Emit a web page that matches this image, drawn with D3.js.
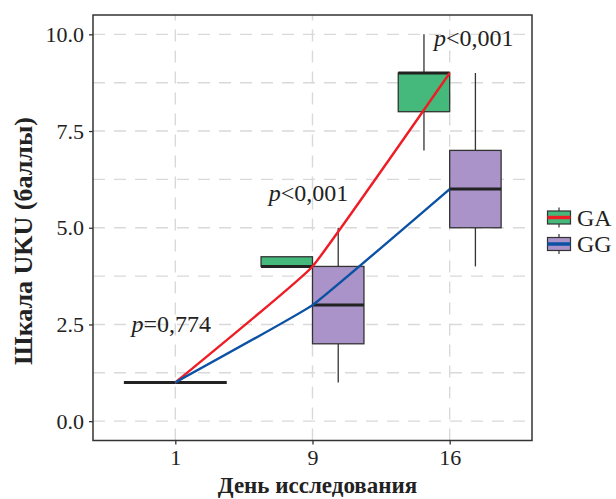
<!DOCTYPE html>
<html>
<head>
<meta charset="utf-8">
<title>UKU</title>
<script src="https://d3js.org/d3.v7.min.js"></script>
<style>
  * { margin: 0; padding: 0; }
  body { background: #fff; }
  text { font-family: "Liberation Serif", "Times New Roman", serif; }
</style>
</head>
<body>
<div id="chart"></div>
<script>
// data
var days = ["1", "9", "16"];
var groups = ["GA", "GG"];
var gaMin = [1, 4, 7],    gaQ1 = [1, 4, 8], gaMed = [1, 4, 9], gaQ3 = [1, 4.25, 9], gaMax = [1, 4.25, 10];
var ggMin = [1, 1, 4],    ggQ1 = [1, 2, 5], ggMed = [1, 3, 6], ggQ3 = [1, 4, 7],    ggMax = [1, 5, 9];
var yTicks = [0, 2.5, 5, 7.5, 10];
var yMinor = [1.25, 3.75, 6.25, 8.75];
var pLabels = [["=", "0,774"], ["<", "0,001"], ["<", "0,001"]];
var pAt = [2.3, 5.7, 9.7];

var fillCol = { GA: "#45b97c", GG: "#a993c8" };
var lineCol = { GA: "#ee1c25", GG: "#0b52a5" };

var W = 616, H = 499;
var pLeft = 93, pRight = 532, pTop = 15, pBottom = 440.5;

var svg = d3.select("#chart").append("svg")
    .attr("width", W).attr("height", H);

var x = d3.scalePoint().domain(days).range([pLeft, pRight]).padding(0.6);
var y = d3.scaleLinear().domain([-0.5, 10.5]).range([pBottom, pTop]);
var step = x.step();
var boxW = step * 0.75 / 2;
var off = { GA: -boxW / 2, GG: boxW / 2 };

// grid
var grid = svg.append("g").attr("stroke", "#d9d9d9").attr("stroke-width", 1.4)
    .attr("stroke-dasharray", "12,9");
grid.selectAll(".hy").data(yTicks.concat(yMinor)).enter().append("line")
    .attr("x1", pLeft).attr("x2", pRight)
    .attr("y1", function (d) { return y(d); }).attr("y2", function (d) { return y(d); });
grid.selectAll(".vx").data(days).enter().append("line")
    .attr("y1", pBottom).attr("y2", pTop)
    .attr("x1", function (d) { return x(d); }).attr("x2", function (d) { return x(d); });

// boxes
var stats = {
    GA: days.map(function (d, i) { return { day: d, min: gaMin[i], q1: gaQ1[i], med: gaMed[i], q3: gaQ3[i], max: gaMax[i] }; }),
    GG: days.map(function (d, i) { return { day: d, min: ggMin[i], q1: ggQ1[i], med: ggMed[i], q3: ggQ3[i], max: ggMax[i] }; })
};

groups.forEach(function (g) {
    var gg = svg.append("g");
    var cx = function (d) { return x(d.day) + off[g]; };
    gg.selectAll(".wh").data(stats[g]).enter().append("line")
        .attr("x1", cx).attr("x2", cx)
        .attr("y1", function (d) { return y(d.max); }).attr("y2", function (d) { return y(d.q3); })
        .attr("stroke", "#333").attr("stroke-width", 1.3);
    gg.selectAll(".wl").data(stats[g]).enter().append("line")
        .attr("x1", cx).attr("x2", cx)
        .attr("y1", function (d) { return y(d.q1); }).attr("y2", function (d) { return y(d.min); })
        .attr("stroke", "#333").attr("stroke-width", 1.3);
    gg.selectAll("rect").data(stats[g]).enter().append("rect")
        .attr("x", function (d) { return cx(d) - boxW / 2; })
        .attr("width", boxW)
        .attr("y", function (d) { return y(d.q3); })
        .attr("height", function (d) { return y(d.q1) - y(d.q3); })
        .attr("fill", fillCol[g]).attr("stroke", "#333").attr("stroke-width", 1.3);
    gg.selectAll(".md").data(stats[g]).enter().append("line")
        .attr("x1", function (d) { return cx(d) - boxW / 2; })
        .attr("x2", function (d) { return cx(d) + boxW / 2; })
        .attr("y1", function (d) { return y(d.med); }).attr("y2", function (d) { return y(d.med); })
        .attr("stroke", "#222").attr("stroke-width", 3);
});

// median trend lines, nearly straight with a soft bend at day 9
var line = d3.line()
    .x(function (d) { return x(d.day); })
    .y(function (d) { return y(d.med); })
    .curve(d3.curveCardinal.tension(0.75));
groups.forEach(function (g) {
    svg.append("path").datum(stats[g])
        .attr("d", line).attr("fill", "none")
        .attr("stroke", lineCol[g]).attr("stroke-width", 2.4);
});

// panel border
svg.append("rect").attr("x", pLeft).attr("y", pTop)
    .attr("width", pRight - pLeft).attr("height", pBottom - pTop)
    .attr("fill", "none").attr("stroke", "#333").attr("stroke-width", 1.5);

// axes
var yAxis = svg.append("g").attr("transform", "translate(" + pLeft + ",0)")
    .call(d3.axisLeft(y).tickValues(yTicks).tickFormat(d3.format(".1f")).tickSize(4).tickPadding(5));
var xAxis = svg.append("g").attr("transform", "translate(0," + pBottom + ")")
    .call(d3.axisBottom(x).tickSize(4).tickPadding(5));
[xAxis, yAxis].forEach(function (a) {
    a.select(".domain").remove();
    a.selectAll("line").attr("stroke", "#333").attr("stroke-width", 1.3);
    a.selectAll("text").attr("fill", "#222").style("font-size", "22px")
        .style("font-family", "'Liberation Serif', serif");
});

// p-value annotations
var ann = svg.append("g").attr("fill", "#222").style("font-size", "24px");
ann.selectAll("text").data(days).enter().append("text")
    .attr("x", function (d, i) { return x(d) + (i == 2 ? 24 : -4); })
    .attr("y", function (d, i) { return y(pAt[i]); })
    .attr("text-anchor", "middle")
    .each(function (d, i) {
        var t = d3.select(this);
        t.append("tspan").style("font-style", "italic").text("p");
        t.append("tspan").text(pLabels[i][0] + pLabels[i][1]);
    });

// axis titles
svg.append("text")
    .attr("x", (pLeft + pRight) / 2 + 5).attr("y", 493)
    .attr("text-anchor", "middle")
    .style("font-size", "23px").style("font-weight", "bold").attr("fill", "#222")
    .text("День исследования");
svg.append("text")
    .attr("transform", "translate(32," + 241 + ") rotate(-90)")
    .attr("text-anchor", "middle")
    .style("font-size", "26px").style("font-weight", "bold").attr("fill", "#222")
    .text("Шкала UKU (баллы)");

// legend
var leg = svg.append("g");
groups.forEach(function (g, i) {
    var ky = 217.5 + i * 26.5;
    var kx = 559;
    leg.append("line").attr("x1", kx).attr("x2", kx).attr("y1", ky - 10).attr("y2", ky + 10)
        .attr("stroke", "#333").attr("stroke-width", 1.2);
    leg.append("rect").attr("x", kx - 11.5).attr("y", ky - 6.5).attr("width", 23).attr("height", 13)
        .attr("fill", fillCol[g]).attr("stroke", "#333").attr("stroke-width", 1.2);
    leg.append("line").attr("x1", kx - 11.5).attr("x2", kx + 11.5).attr("y1", ky).attr("y2", ky)
        .attr("stroke", lineCol[g]).attr("stroke-width", 3.5);
    leg.append("text").attr("x", 577).attr("y", ky + 8)
        .style("font-size", "24px").attr("fill", "#222").text(g);
});
</script>
</body>
</html>
